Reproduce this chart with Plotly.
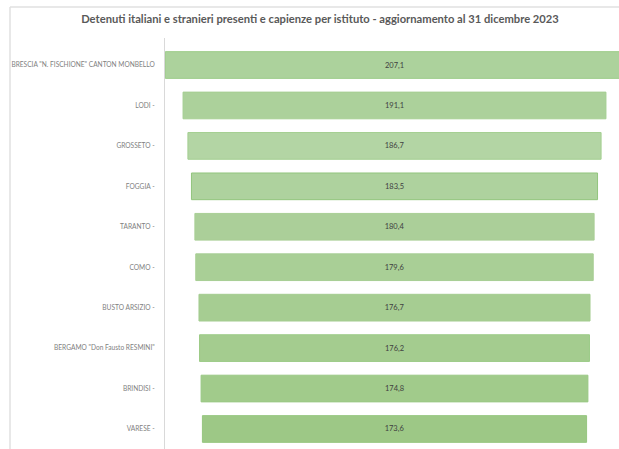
import plotly.graph_objects as go

istituti = [
    'BRESCIA "N. FISCHIONE" CANTON MONBELLO',
    "LODI -",
    "GROSSETO -",
    "FOGGIA -",
    "TARANTO -",
    "COMO -",
    "BUSTO ARSIZIO -",
    'BERGAMO "Don Fausto RESMINI"',
    "BRINDISI -",
    "VARESE -",
]
valori = [207.1, 191.1, 186.7, 183.5, 180.4, 179.6, 176.7, 176.2, 174.8, 173.6]
colori = ["#acd29c", "#acd19b", "#b3d5a4", "#aed29e", "#abcf99", "#a9cf96",
          "#a6cd92", "#a4cc8f", "#a1cb8b", "#9dc886"]
bordi = ["#9ccb88", "#a5cf92", "#a3cf90", "#92c57d", "#a9cf96", "#a7ce93",
         "#a4cc90", "#9ccb87", "#9ac985", "#96c67f"]

etichette = [f"{v:.1f}".replace(".", ",") for v in valori]

W, H = 619, 449
L, R, T, B = 165, 0, 38, 0
pw, ph = W - L - R, H - T - B

# horizontal scale: pixels per unit and centre line of the funnel
scala = 2.213
centro = 394.5

fig = go.Figure(go.Funnel(
    y=istituti,
    x=valori,
    text=etichette,
    texttemplate="%{text}",
    textposition="inside",
    insidetextanchor="middle",
    textfont=dict(family="Lato", size=7.5, color="#404040"),
    marker=dict(color=colori, line=dict(color=bordi, width=1)),
    connector=dict(visible=False),
    hoverinfo="y+x",
))

fig.update_layout(
    width=W, height=H,
    margin=dict(l=L, r=R, t=T, b=B),
    paper_bgcolor="white",
    plot_bgcolor="white",
    funnelgap=0.34,
    showlegend=False,
    title=dict(
        text="<b>Detenuti italiani e stranieri presenti e capienze per istituto - aggiornamento al 31 dicembre 2023</b>",
        font=dict(family="Lato", size=11.2, color="#595959"),
        x=320 / W, xanchor="center", xref="container",
        y=1 - 19 / H, yanchor="middle", yref="container",
    ),
    xaxis=dict(visible=False,
               range=[-(centro - L) / scala, (W - R - centro) / scala]),
    yaxis=dict(
        range=[9.495, -0.668],
        showline=True, linecolor="#d9d9d9", linewidth=1,
        showgrid=False, zeroline=False, ticks="",
        ticklabelstandoff=8,
        tickfont=dict(family="Lato", size=6.6, color="#808080"),
    ),
    shapes=[
        dict(type="line", xref="paper", yref="paper",
             x0=(10 - L) / pw, x1=(10 - L) / pw,
             y0=1 + (T - 7) / ph, y1=-0.05,
             line=dict(color="#e0e0e0", width=1.5)),
        dict(type="line", xref="paper", yref="paper",
             x0=(10 - L) / pw, x1=1.05,
             y0=1 + (T - 7) / ph, y1=1 + (T - 7) / ph,
             line=dict(color="#e0e0e0", width=1.5)),
    ],
)

fig.write_html("out.html")
